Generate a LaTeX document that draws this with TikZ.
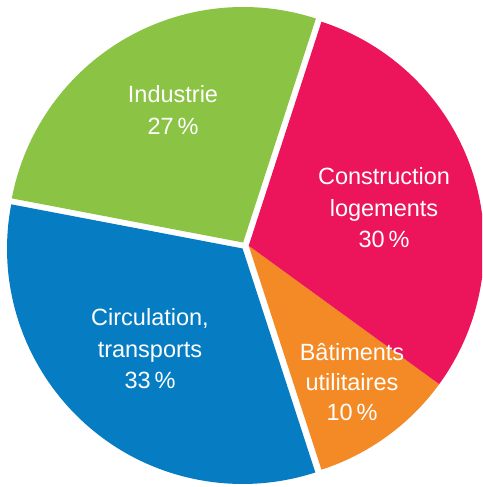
\documentclass[tikz,border=0pt]{standalone}
\usepackage{fontspec}
\setmainfont{Liberation Sans}
\definecolor{cgreen}{RGB}{139,195,69}
\definecolor{cpink}{RGB}{236,20,90}
\definecolor{corange}{RGB}{243,138,37}
\definecolor{cblue}{RGB}{6,125,194}
\tikzset{
  lbl/.style={text=white, align=center, inner sep=0pt, font=\fontsize{23.5}{31.5}\selectfont},
}
\begin{document}
\begin{tikzpicture}[x=1pt,y=1pt]
\useasboundingbox (0,0) rectangle (482,487);
\clip (0,0) rectangle (482,487);
\coordinate (C) at (245,241.3);
\def\R{235.5pt}
% Industrie
\fill[cgreen] ([shift={(120.6:3.7)}]C) -- ++(72:\R) arc[start angle=72, end angle=169.2, radius=\R] -- cycle;
% Circulation
\fill[cblue] ([shift={(228.6:3.7)}]C) -- ++(169.2:\R) arc[start angle=169.2, end angle=288, radius=\R] -- cycle;
% Batiments
\fill[corange] ([shift={(0:3.7)}]C) -- ++(288:\R) arc[start angle=288, end angle=324, radius=\R] -- cycle;
% Construction
\fill[cpink] ([shift={(0:3.7)}]C) -- ++(324:\R) arc[start angle=324, end angle=432, radius=\R] -- cycle;
\node[lbl] (ind) at (173,377) {Industrie\\27\,\%};
\node[lbl] (con) at (384,279) {Construction\\logements\\30\,\%};
\node[lbl] (cir) at (150,138) {Circulation,\\transports\\33\,\%};
\node[lbl, font=\fontsize{23.5}{30}\selectfont] (bat) at (352,105) {Bâtiments\\utilitaires\\10\,\%};
\end{tikzpicture}
\end{document}
